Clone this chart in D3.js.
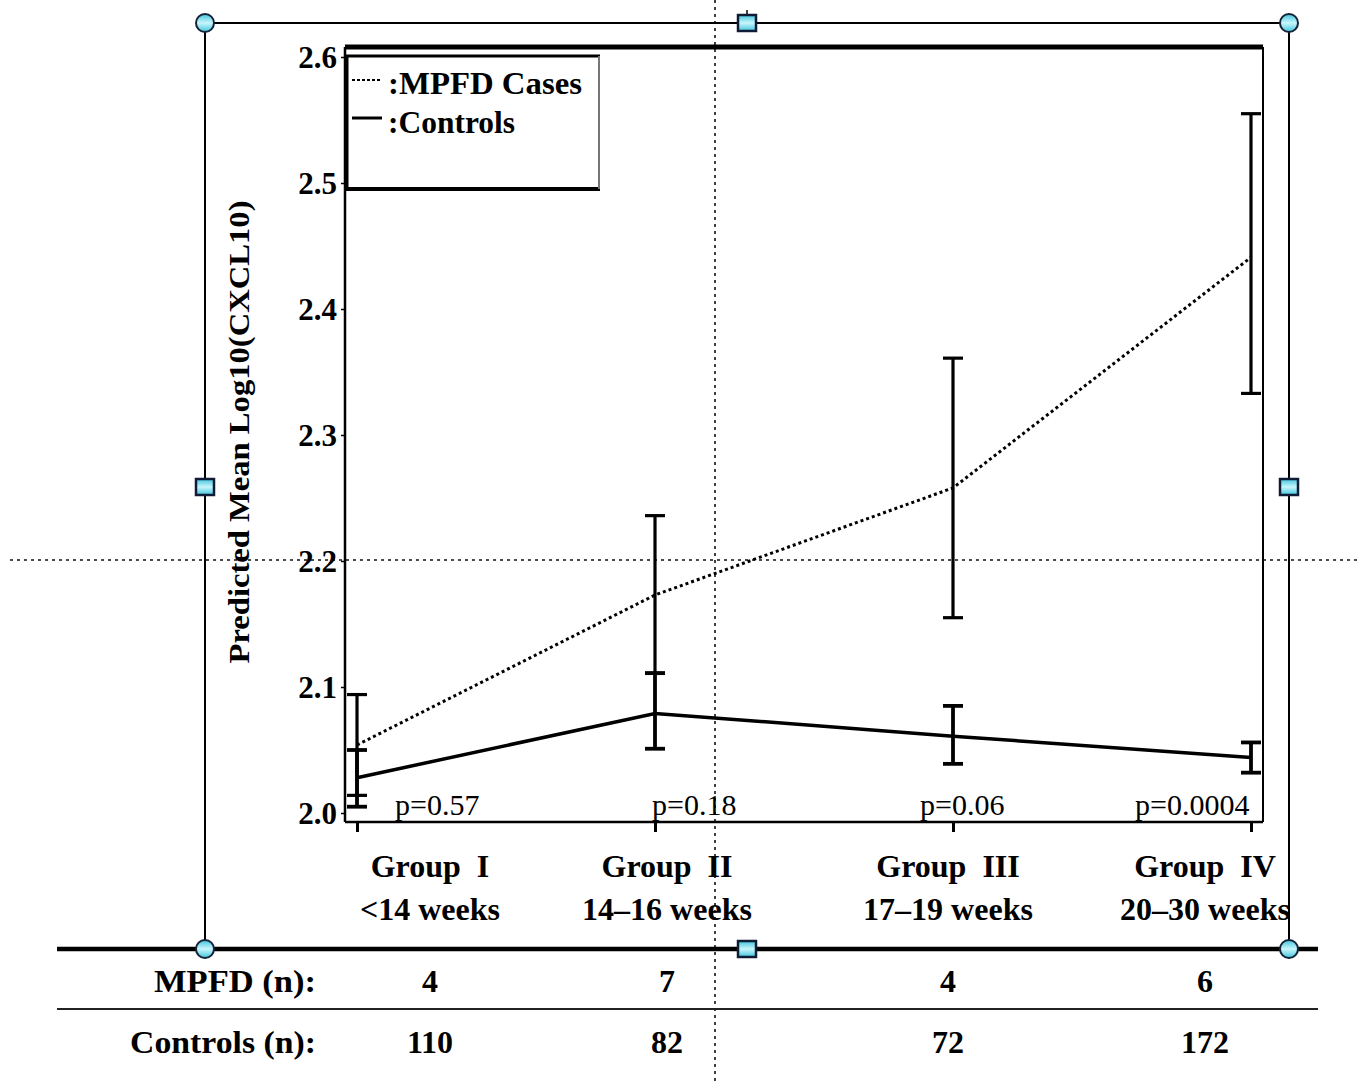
<!DOCTYPE html>
<html lang="en">

<head>
    <meta charset="utf-8" />
    <title>CXCL10 by gestational group</title>
    <script type="text/javascript" src="https://cdn.jsdelivr.net/npm/d3@7"></script>
    <style type="text/css">
        body {
            margin: 0;
            background: #fff;
        }
        svg text {
            font-family: "Liberation Serif", "Times New Roman", serif;
            fill: #000;
        }
    </style>
</head>

<body>
    <script type="text/javascript">
        // data
        var groups = ["Group  I", "Group  II", "Group  III", "Group  IV"];
        var weeks = ["<14 weeks", "14\u201316 weeks", "17\u201319 weeks", "20\u201330 weeks"];
        var yTicks = [2.0, 2.1, 2.2, 2.3, 2.4, 2.5, 2.6];

        var mpfdMean = [2.054, 2.173, 2.258, 2.441];
        var mpfdLow = [2.014, 2.111, 2.155, 2.333];
        var mpfdHigh = [2.094, 2.236, 2.361, 2.555];

        var ctrlMean = [2.028, 2.079, 2.061, 2.044];
        var ctrlLow = [2.005, 2.051, 2.039, 2.032];
        var ctrlHigh = [2.050, 2.111, 2.085, 2.056];

        var pValues = ["p=0.57", "p=0.18", "p=0.06", "p=0.0004"];
        var mpfdN = [4, 7, 4, 6];
        var ctrlN = [110, 82, 72, 172];

        var w = 1360;
        var h = 1081;
        var plotL = 345, plotR = 1263, plotT = 47, plotB = 822;

        // text shifts relative to each group tick
        var pShift = [38, -3, -33, -116];
        var colShift = [73, 12, -5, -46];

        var svg = d3
            .select("body")
            .append("svg")
            .attr("width", w)
            .attr("height", h);

        var xScale = d3
            .scalePoint()
            .domain(groups)
            .range([357, 1251]);

        var yScale = d3
            .scaleLinear()
            .domain([2.0, 2.6])
            .range([813, 57]);

        // gradient for the selection handles
        var grad = svg.append("defs").append("linearGradient")
            .attr("id", "handle")
            .attr("x1", 0).attr("y1", 0).attr("x2", 0).attr("y2", 1);
        grad.append("stop").attr("offset", "0%").attr("stop-color", "#3fc4dc");
        grad.append("stop").attr("offset", "50%").attr("stop-color", "#c8f6fc");
        grad.append("stop").attr("offset", "100%").attr("stop-color", "#3fc4dc");

        // crosshair guides
        svg.append("line")
            .attr("x1", 10).attr("x2", w)
            .attr("y1", 560).attr("y2", 560)
            .attr("stroke", "#111")
            .attr("stroke-width", 1.6)
            .attr("stroke-dasharray", "3,4");
        svg.append("line")
            .attr("x1", 715).attr("x2", 715)
            .attr("y1", 0).attr("y2", h)
            .attr("stroke", "#111")
            .attr("stroke-width", 1.6)
            .attr("stroke-dasharray", "3,4");

        // selection frame
        var frame = svg.append("g")
            .attr("fill", "none")
            .attr("stroke", "#000");
        frame.append("line").attr("x1", 205).attr("x2", 1289).attr("y1", 23).attr("y2", 23).attr("stroke-width", 2);
        frame.append("line").attr("x1", 205).attr("x2", 205).attr("y1", 23).attr("y2", 949).attr("stroke-width", 2);
        frame.append("line").attr("x1", 1289).attr("x2", 1289).attr("y1", 23).attr("y2", 949).attr("stroke-width", 2);
        frame.append("line").attr("x1", 747).attr("x2", 747).attr("y1", 10).attr("y2", 16).attr("stroke-width", 1.5);

        // table rules
        svg.append("line")
            .attr("x1", 57).attr("x2", 1318)
            .attr("y1", 949).attr("y2", 949)
            .attr("stroke", "#000")
            .attr("stroke-width", 4.5);
        svg.append("line")
            .attr("x1", 57).attr("x2", 1318)
            .attr("y1", 1009).attr("y2", 1009)
            .attr("stroke", "#222")
            .attr("stroke-width", 2);

        // plot box
        var box = svg.append("g").attr("stroke", "#000");
        box.append("line").attr("x1", plotL).attr("x2", plotR).attr("y1", plotT).attr("y2", plotT).attr("stroke-width", 5);
        box.append("line").attr("x1", plotL).attr("x2", plotL).attr("y1", plotT).attr("y2", plotB).attr("stroke-width", 2.5);
        box.append("line").attr("x1", plotR).attr("x2", plotR).attr("y1", plotT).attr("y2", plotB).attr("stroke-width", 2);
        box.append("line").attr("x1", plotL).attr("x2", plotR).attr("y1", plotB).attr("y2", plotB).attr("stroke-width", 2.5);

        // y axis
        var yAxis = d3.axisLeft(yScale)
            .tickValues(yTicks)
            .tickSize(4)
            .tickPadding(4)
            .tickFormat(d3.format(".1f"));
        var gy = svg.append("g")
            .attr("transform", "translate(" + plotL + ",0)")
            .call(yAxis);
        gy.select(".domain").remove();
        gy.selectAll(".tick line").attr("stroke", "#000").attr("stroke-width", 1.5);
        gy.selectAll(".tick text")
            .attr("font-family", "Liberation Serif")
            .attr("font-size", "31px")
            .attr("font-weight", "bold")
            .attr("dy", "0.34em")
            .attr("fill", "#000");

        // x axis ticks
        var xAxis = d3.axisBottom(xScale)
            .tickSize(10)
            .tickFormat("");
        var gx = svg.append("g")
            .attr("transform", "translate(0," + plotB + ")")
            .call(xAxis);
        gx.select(".domain").remove();
        gx.selectAll(".tick line").attr("stroke", "#000").attr("stroke-width", 3);

        // y title
        svg.append("text")
            .attr("transform", "translate(249,432) rotate(-90)")
            .attr("text-anchor", "middle")
            .attr("font-size", "30px")
            .attr("font-weight", "bold")
            .attr("textLength", 463)
            .attr("lengthAdjust", "spacingAndGlyphs")
            .text("Predicted Mean Log10(CXCL10)");

        // lines
        var line = function(vals) {
            return d3.line()
                .x(function(d, i) { return xScale(groups[i]); })
                .y(function(d) { return yScale(d); })(vals);
        };

        svg.append("path")
            .attr("d", line(mpfdMean))
            .attr("fill", "none")
            .attr("stroke", "#000")
            .attr("stroke-width", 3)
            .attr("stroke-dasharray", "3,3");

        svg.append("path")
            .attr("d", line(ctrlMean))
            .attr("fill", "none")
            .attr("stroke", "#000")
            .attr("stroke-width", 3.5);

        // error bars
        function errorBars(low, high, cls, sw) {
            var g = svg.selectAll("g." + cls)
                .data(groups)
                .enter()
                .append("g")
                .attr("class", cls)
                .attr("stroke", "#000")
                .attr("stroke-width", sw);
            g.append("line")
                .attr("x1", function(d) { return xScale(d); })
                .attr("x2", function(d) { return xScale(d); })
                .attr("y1", function(d, i) { return yScale(low[i]); })
                .attr("y2", function(d, i) { return yScale(high[i]); });
            g.append("line")
                .attr("x1", function(d) { return xScale(d) - 10; })
                .attr("x2", function(d) { return xScale(d) + 10; })
                .attr("y1", function(d, i) { return yScale(low[i]); })
                .attr("y2", function(d, i) { return yScale(low[i]); });
            g.append("line")
                .attr("x1", function(d) { return xScale(d) - 10; })
                .attr("x2", function(d) { return xScale(d) + 10; })
                .attr("y1", function(d, i) { return yScale(high[i]); })
                .attr("y2", function(d, i) { return yScale(high[i]); });
        }
        errorBars(mpfdLow, mpfdHigh, "errMpfd", 3.2);
        errorBars(ctrlLow, ctrlHigh, "errCtrl", 3.8);

        // p values
        svg.selectAll("text.pval")
            .data(pValues)
            .enter()
            .append("text")
            .attr("class", "pval")
            .attr("x", function(d, i) { return xScale(groups[i]) + pShift[i]; })
            .attr("y", 815)
            .attr("font-size", "30px")
            .text(function(d) { return d; });

        // group labels
        svg.selectAll("text.grp")
            .data(groups)
            .enter()
            .append("text")
            .attr("class", "grp")
            .attr("x", function(d, i) { return xScale(d) + colShift[i]; })
            .attr("y", 877)
            .attr("text-anchor", "middle")
            .attr("font-size", "32px")
            .attr("font-weight", "bold")
            .style("white-space", "pre")
            .text(function(d) { return d; });

        svg.selectAll("text.wk")
            .data(weeks)
            .enter()
            .append("text")
            .attr("class", "wk")
            .attr("x", function(d, i) { return xScale(groups[i]) + colShift[i]; })
            .attr("y", 920)
            .attr("text-anchor", "middle")
            .attr("font-size", "32px")
            .attr("font-weight", "bold")
            .text(function(d) { return d; });

        // legend
        var leg = svg.append("g");
        leg.append("rect")
            .attr("x", 346).attr("y", 56)
            .attr("width", 253).attr("height", 133)
            .attr("fill", "#fff")
            .attr("stroke", "none");
        leg.append("line").attr("x1", 346).attr("x2", 600).attr("y1", 56).attr("y2", 56).attr("stroke", "#000").attr("stroke-width", 3);
        leg.append("line").attr("x1", 346).attr("x2", 600).attr("y1", 189).attr("y2", 189).attr("stroke", "#000").attr("stroke-width", 4);
        leg.append("line").attr("x1", 347).attr("x2", 347).attr("y1", 56).attr("y2", 189).attr("stroke", "#000").attr("stroke-width", 3);
        leg.append("line").attr("x1", 599).attr("x2", 599).attr("y1", 56).attr("y2", 189).attr("stroke", "#777").attr("stroke-width", 2);
        leg.append("line")
            .attr("x1", 352).attr("x2", 382).attr("y1", 80).attr("y2", 80)
            .attr("stroke", "#000").attr("stroke-width", 2).attr("stroke-dasharray", "3,2");
        leg.append("line")
            .attr("x1", 352).attr("x2", 382).attr("y1", 118).attr("y2", 118)
            .attr("stroke", "#000").attr("stroke-width", 3);
        leg.append("text")
            .attr("x", 388).attr("y", 94)
            .attr("font-size", "31px")
            .attr("font-weight", "bold")
            .attr("textLength", 194)
            .attr("lengthAdjust", "spacingAndGlyphs")
            .text(":MPFD Cases");
        leg.append("text")
            .attr("x", 388).attr("y", 133)
            .attr("font-size", "31px")
            .attr("font-weight", "bold")
            .attr("textLength", 127)
            .attr("lengthAdjust", "spacingAndGlyphs")
            .text(":Controls");

        // n table
        svg.append("text")
            .attr("x", 316).attr("y", 992)
            .attr("text-anchor", "end")
            .attr("font-size", "32px")
            .attr("font-weight", "bold")
            .attr("textLength", 162)
            .attr("lengthAdjust", "spacingAndGlyphs")
            .text("MPFD (n):");
        svg.append("text")
            .attr("x", 316).attr("y", 1053)
            .attr("text-anchor", "end")
            .attr("font-size", "32px")
            .attr("font-weight", "bold")
            .attr("textLength", 186)
            .attr("lengthAdjust", "spacingAndGlyphs")
            .text("Controls (n):");

        svg.selectAll("text.nm")
            .data(mpfdN)
            .enter()
            .append("text")
            .attr("class", "nm")
            .attr("x", function(d, i) { return xScale(groups[i]) + colShift[i]; })
            .attr("y", 992)
            .attr("text-anchor", "middle")
            .attr("font-size", "32px")
            .attr("font-weight", "bold")
            .text(function(d) { return d; });

        svg.selectAll("text.nc")
            .data(ctrlN)
            .enter()
            .append("text")
            .attr("class", "nc")
            .attr("x", function(d, i) { return xScale(groups[i]) + colShift[i]; })
            .attr("y", 1053)
            .attr("text-anchor", "middle")
            .attr("font-size", "32px")
            .attr("font-weight", "bold")
            .text(function(d) { return d; });

        // selection handles
        var corners = [[205, 23], [1289, 23], [205, 949], [1289, 949]];
        var mids = [[747, 23], [205, 487], [1289, 487], [747, 949]];
        svg.selectAll("circle.handle")
            .data(corners)
            .enter()
            .append("circle")
            .attr("class", "handle")
            .attr("cx", function(d) { return d[0]; })
            .attr("cy", function(d) { return d[1]; })
            .attr("r", 9)
            .attr("fill", "url(#handle)")
            .attr("stroke", "#152238")
            .attr("stroke-width", 2);
        svg.selectAll("rect.handle")
            .data(mids)
            .enter()
            .append("rect")
            .attr("class", "handle")
            .attr("x", function(d) { return d[0] - 9; })
            .attr("y", function(d) { return d[1] - 8; })
            .attr("width", 18)
            .attr("height", 16)
            .attr("fill", "url(#handle)")
            .attr("stroke", "#101c36")
            .attr("stroke-width", 2.5);
    </script>
</body>

</html>
